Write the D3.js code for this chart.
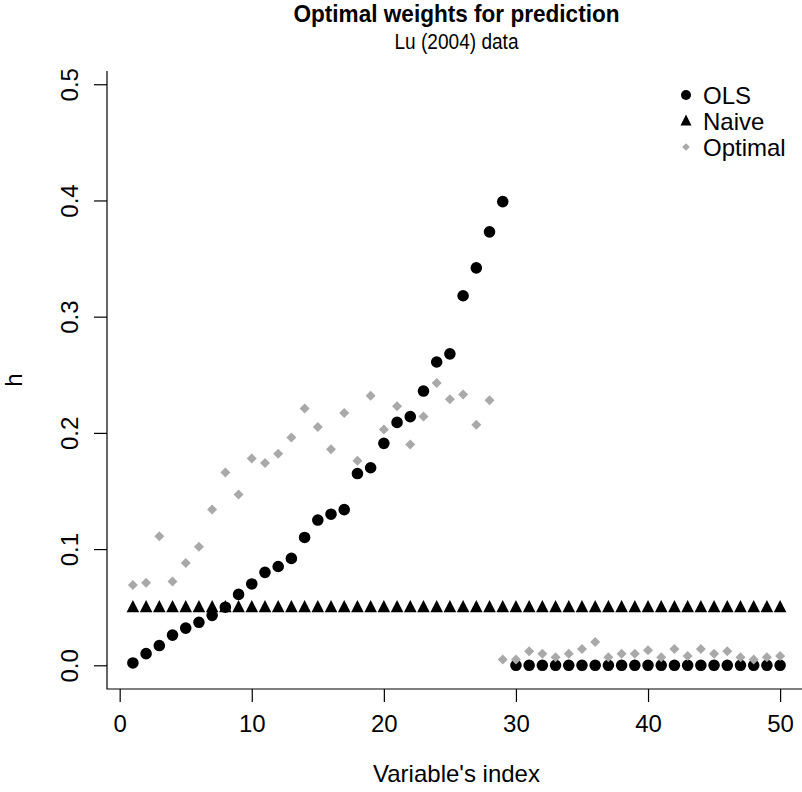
<!DOCTYPE html>
<html>
<head>
<meta charset="utf-8">
<script src="https://cdn.jsdelivr.net/npm/d3@7"></script>
<style>
  html, body { margin: 0; padding: 0; background: #ffffff; }
  svg { display: block; }
  text { font-family: "Liberation Sans", Arial, Helvetica, sans-serif; fill: #000; }
</style>
</head>
<body>
<svg id="chart" width="802" height="792"></svg>
<script>
// ---- data ----
const variableIndex = d3.range(1, 51);
const olsValues = [
  0.002, 0.010, 0.017, 0.026, 0.032, 0.037, 0.043, 0.050, 0.061, 0.070,
  0.080, 0.085, 0.092, 0.110, 0.125, 0.130, 0.134, 0.165, 0.170, 0.191,
  0.209, 0.214, 0.236, 0.261, 0.268, 0.318, 0.342, 0.373, 0.399, 0.000,
  0.000, 0.000, 0.000, 0.000, 0.000, 0.000, 0.000, 0.000, 0.000, 0.000,
  0.000, 0.000, 0.000, 0.000, 0.000, 0.000, 0.000, 0.000, 0.000, 0.000
];
const naiveValues = [
  0.05, 0.05, 0.05, 0.05, 0.05, 0.05, 0.05, 0.05, 0.05, 0.05,
  0.05, 0.05, 0.05, 0.05, 0.05, 0.05, 0.05, 0.05, 0.05, 0.05,
  0.05, 0.05, 0.05, 0.05, 0.05, 0.05, 0.05, 0.05, 0.05, 0.05,
  0.05, 0.05, 0.05, 0.05, 0.05, 0.05, 0.05, 0.05, 0.05, 0.05,
  0.05, 0.05, 0.05, 0.05, 0.05, 0.05, 0.05, 0.05, 0.05, 0.05
];
const optimalValues = [
  0.069, 0.071, 0.111, 0.072, 0.088, 0.102, 0.134, 0.166, 0.147, 0.178,
  0.174, 0.182, 0.196, 0.221, 0.205, 0.186, 0.217, 0.176, 0.232, 0.203,
  0.223, 0.190, 0.214, 0.243, 0.229, 0.233, 0.207, 0.228, 0.005, 0.005,
  0.012, 0.010, 0.007, 0.010, 0.014, 0.020, 0.007, 0.010, 0.010, 0.013,
  0.007, 0.014, 0.008, 0.014, 0.010, 0.012, 0.007, 0.005, 0.007, 0.008
];
const xTicks = [0, 10, 20, 30, 40, 50];
const yTicks = [0.0, 0.1, 0.2, 0.3, 0.4, 0.5];
const legendLabels = ["OLS", "Naive", "Optimal"];
const titleText = "Optimal weights for prediction";
const subtitleText = "Lu (2004) data";
const xLabel = "Variable's index";
const yLabel = "h";

// ---- layout ----
const plot = { left: 107, right: 806, top: 71, bottom: 689 };
const greyCol = "#a9a9a9";

const svg = d3.select("#chart");

const x = d3.scaleLinear().domain([-0.96, 51.96]).range([plot.left, plot.right]);
const y = d3.scaleLinear().domain([-0.0204, 0.5114]).range([plot.bottom, plot.top]);

// symbol paths
const circlePath = r => d3.symbol().type(d3.symbolCircle).size(Math.PI * r * r)();
function trianglePath(w, up, down) {
  return `M0,${-up}L${w / 2},${down}L${-w / 2},${down}Z`;
}
function diamondPath(h) {
  return `M0,${-h}L${h},0L0,${h}L${-h},0Z`;
}

// ---- L-shaped box ----
svg.append("path")
  .attr("d", `M${plot.left},${plot.top}V${plot.bottom}H${plot.right}`)
  .attr("fill", "none").attr("stroke", "#000").attr("stroke-width", 1.2);

// ---- axes ----
const xAxis = svg.append("g")
  .attr("transform", `translate(0,${plot.bottom})`)
  .call(d3.axisBottom(x).tickValues(xTicks).tickSize(13).tickPadding(13).tickFormat(d3.format("d")));
xAxis.select(".domain").remove();
xAxis.selectAll("line").attr("stroke", "#000").attr("stroke-width", 1.2);
xAxis.selectAll("text").attr("font-size", 24).attr("font-family", "Liberation Sans, Arial, sans-serif").attr("fill", "#000");

const yAxis = svg.append("g")
  .attr("transform", `translate(${plot.left},0)`)
  .call(d3.axisLeft(y).tickValues(yTicks).tickSize(13).tickFormat(d3.format(".1f")));
yAxis.select(".domain").remove();
yAxis.selectAll("line").attr("stroke", "#000").attr("stroke-width", 1.2);
yAxis.selectAll("text")
  .attr("font-size", 24).attr("font-family", "Liberation Sans, Arial, sans-serif").attr("fill", "#000")
  .attr("transform", "rotate(-90)")
  .attr("text-anchor", "middle")
  .attr("x", 0).attr("y", -29).attr("dy", 0);

// ---- titles ----
const cx = (plot.left + plot.right) / 2;
svg.append("text").attr("x", cx).attr("y", 22)
  .attr("text-anchor", "middle").attr("font-size", 24).attr("font-weight", "bold")
  .attr("textLength", 326).attr("lengthAdjust", "spacingAndGlyphs").text(titleText);
svg.append("text").attr("x", cx).attr("y", 49)
  .attr("text-anchor", "middle").attr("font-size", 22)
  .attr("textLength", 124).attr("lengthAdjust", "spacingAndGlyphs").text(subtitleText);
svg.append("text").attr("x", cx).attr("y", 782)
  .attr("text-anchor", "middle").attr("font-size", 24).text(xLabel);
svg.append("text")
  .attr("transform", `translate(22,${(plot.top + plot.bottom) / 2}) rotate(-90)`)
  .attr("text-anchor", "middle").attr("font-size", 24).text(yLabel);

// ---- points ----
const pts = svg.append("g");
pts.selectAll("path.ols").data(variableIndex.map((v, i) => [v, olsValues[i]]))
  .join("path").attr("class", "ols")
  .attr("transform", d => `translate(${x(d[0])},${y(d[1])})`)
  .attr("d", circlePath(5.8)).attr("fill", "#000");
pts.selectAll("path.naive").data(variableIndex.map((v, i) => [v, naiveValues[i]]))
  .join("path").attr("class", "naive")
  .attr("transform", d => `translate(${x(d[0])},${y(d[1])})`)
  .attr("d", trianglePath(12.6, 7.2, 5)).attr("fill", "#000");
pts.selectAll("path.opt").data(variableIndex.map((v, i) => [v, optimalValues[i]]))
  .join("path").attr("class", "opt")
  .attr("transform", d => `translate(${x(d[0])},${y(d[1])})`)
  .attr("d", diamondPath(5)).attr("fill", greyCol);

// ---- legend ----
const legendY = [95, 121, 147];
const legendSym = [
  { d: circlePath(5), fill: "#000" },
  { d: trianglePath(11, 6.5, 4.5), fill: "#000" },
  { d: diamondPath(3.8), fill: greyCol }
];
const leg = svg.append("g");
legendLabels.forEach((lab, i) => {
  leg.append("path").attr("transform", `translate(686,${legendY[i]})`)
    .attr("d", legendSym[i].d).attr("fill", legendSym[i].fill);
  leg.append("text").attr("x", 703).attr("y", legendY[i]).attr("dy", "0.36em")
    .attr("font-size", 24).text(lab);
});
</script>
</body>
</html>
